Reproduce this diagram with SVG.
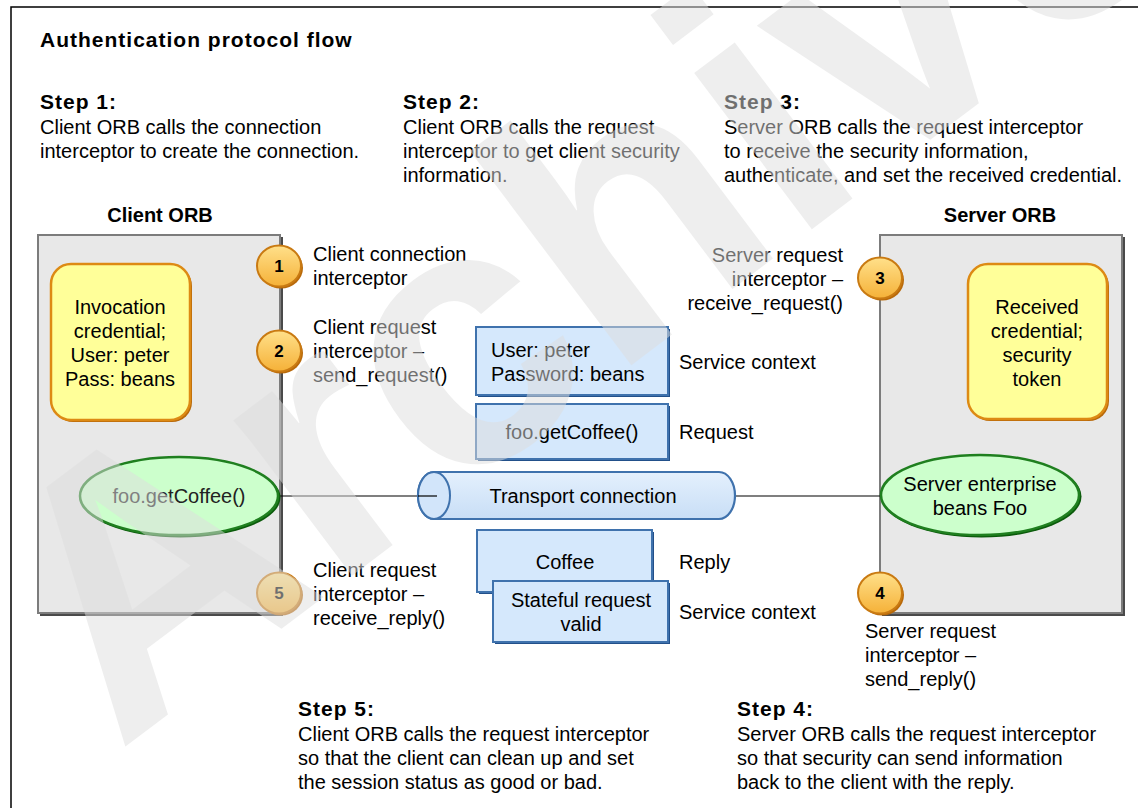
<svg xmlns="http://www.w3.org/2000/svg" width="1138" height="808" viewBox="0 0 1138 808">
<defs>
<style>
text{font-family:"Liberation Sans",Arial,sans-serif;fill:#000}
.t{font-size:20px}
.b{font-size:20px;font-weight:bold}
.h{font-size:21px;font-weight:bold;letter-spacing:1px}
.m{text-anchor:middle}
.e{text-anchor:end}
.orb{fill:#e8e8e8;stroke:#7c7c7c;stroke-width:2}
.orbs{fill:#4a4a4a}
.yel{fill:#ffff99;stroke:#dd8a14;stroke-width:2.5}
.yels{fill:#b8690a}
.grn{fill:#ccffcc;stroke:#1f7f1f;stroke-width:2.5}
.grns{fill:#0b5a0b}
.blu{fill:#d5e8fc;stroke:#3f72ad;stroke-width:2}
.blus{fill:#22508a}
.bad{fill:url(#bg);stroke:#c97a12;stroke-width:2}
.bads{fill:#b8690a}
.num{font-size:17px;font-weight:bold;text-anchor:middle}
.ln{stroke:#000;stroke-width:1.2;fill:none}
</style>
<linearGradient id="bg" x1="0" y1="0" x2="0" y2="1">
<stop offset="0" stop-color="#ffe08a"/>
<stop offset="1" stop-color="#f5b138"/>
</linearGradient>
<linearGradient id="cyl" x1="0" y1="0" x2="0" y2="1">
<stop offset="0" stop-color="#e4f0fd"/>
<stop offset="1" stop-color="#c8def6"/>
</linearGradient>
</defs>
<rect width="1138" height="808" fill="#fff"/>
<path d="M11,808 V7 H1138" fill="none" stroke="#000" stroke-width="1.5"/>

<g id="title"><text class="h" x="40" y="47">Authentication protocol flow</text></g>

<g id="step1">
<text class="h" x="40" y="109">Step 1:</text>
<text class="t" x="40" y="134">Client ORB calls the connection</text>
<text class="t" x="40" y="158">interceptor to create the connection.</text>
</g>
<g id="step2">
<text class="h" x="403" y="109">Step 2:</text>
<text class="t" x="403" y="134">Client ORB calls the request</text>
<text class="t" x="403" y="158">interceptor to get client security</text>
<text class="t" x="403" y="182">information.</text>
</g>
<g id="step3">
<text class="h" x="724" y="109">Step 3:</text>
<text class="t" x="724" y="134">Server ORB calls the request interceptor</text>
<text class="t" x="724" y="158">to receive the security information,</text>
<text class="t" x="724" y="182">authenticate, and set the received credential.</text>
</g>

<g id="client-orb">
<text class="b m" x="160" y="222">Client ORB</text>
<rect class="orbs" x="40" y="237" width="243" height="379"/>
<rect class="orb" x="38" y="235" width="242" height="378"/>
</g>
<g id="server-orb">
<text class="b m" x="1000" y="222">Server ORB</text>
<rect class="orbs" x="882" y="237" width="243" height="379"/>
<rect class="orb" x="880" y="235" width="242" height="378"/>
</g>

<g id="invocation-credential">
<rect class="yels" x="53" y="266" width="139" height="156" rx="20"/>
<rect class="yel" x="51" y="264" width="139" height="156" rx="20"/>
<text class="t m" x="120" y="314">Invocation</text>
<text class="t m" x="120" y="338">credential;</text>
<text class="t m" x="120" y="362">User: peter</text>
<text class="t m" x="120" y="386">Pass: beans</text>
</g>
<g id="received-credential">
<rect class="yels" x="970" y="266" width="139" height="155" rx="20"/>
<rect class="yel" x="968" y="264" width="139" height="155" rx="20"/>
<text class="t m" x="1037" y="314">Received</text>
<text class="t m" x="1037" y="338">credential;</text>
<text class="t m" x="1037" y="362">security</text>
<text class="t m" x="1037" y="386">token</text>
</g>

<g id="connectors">
<line class="ln" x1="278" y1="496" x2="437" y2="496"/>
<line class="ln" x1="735" y1="496" x2="881" y2="496"/>
</g>

<g id="client-foo">
<ellipse class="grns" cx="180.5" cy="497.5" rx="100" ry="40"/>
<ellipse class="grn" cx="179" cy="496" rx="99" ry="39"/>
<text class="t m" x="179" y="503" style="fill:#222">foo.getCoffee()</text>
</g>
<g id="server-bean">
<ellipse class="grns" cx="981.5" cy="496.5" rx="100" ry="41"/>
<ellipse class="grn" cx="980" cy="495" rx="99" ry="40"/>
<text class="t m" x="980" y="491">Server enterprise</text>
<text class="t m" x="980" y="515">beans Foo</text>
</g>

<g id="transport">
<path d="M434,472 H719 A16,23.5 0 0 1 719,519 H434 A16,23.5 0 0 1 434,472 Z" fill="url(#cyl)" stroke="#3f72ad" stroke-width="2.2"/>
<ellipse cx="434" cy="495.5" rx="16" ry="23.5" fill="#d2e5fa" stroke="#3f72ad" stroke-width="2"/>
<line class="ln" x1="418" y1="496" x2="437" y2="496"/>
<text class="t m" x="583" y="503">Transport connection</text>
</g>

<g id="service-context-req">
<rect class="blus" x="478" y="329" width="192" height="68"/>
<rect class="blu" x="476" y="327" width="192" height="68"/>
<text class="t" x="491" y="357">User: peter</text>
<text class="t" x="491" y="381">Password: beans</text>
<text class="t" x="679" y="369">Service context</text>
</g>
<g id="request">
<rect class="blus" x="478" y="406" width="192" height="55"/>
<rect class="blu" x="476" y="404" width="192" height="55"/>
<text class="t m" x="572" y="439">foo.getCoffee()</text>
<text class="t" x="679" y="439">Request</text>
</g>
<g id="reply">
<rect class="blus" x="479" y="532" width="175" height="62"/>
<rect class="blu" x="477" y="530" width="175" height="62"/>
<text class="t m" x="565" y="569">Coffee</text>
<text class="t" x="679" y="569">Reply</text>
</g>
<g id="service-context-rep">
<rect class="blus" x="495" y="583" width="175" height="61"/>
<rect class="blu" x="493" y="581" width="175" height="61"/>
<text class="t m" x="581" y="607">Stateful request</text>
<text class="t m" x="581" y="631">valid</text>
<text class="t" x="679" y="619">Service context</text>
</g>

<g id="badge1">
<ellipse class="bads" cx="281" cy="268" rx="22" ry="20.5"/>
<ellipse class="bad" cx="279" cy="266" rx="22" ry="20.5"/>
<text class="num" x="279" y="272">1</text>
<text class="t" x="313" y="261">Client connection</text>
<text class="t" x="313" y="285">interceptor</text>
</g>
<g id="badge2">
<ellipse class="bads" cx="281" cy="353" rx="22" ry="20.5"/>
<ellipse class="bad" cx="279" cy="351" rx="22" ry="20.5"/>
<text class="num" x="279" y="357">2</text>
<text class="t" x="313" y="334">Client request</text>
<text class="t" x="313" y="358">interceptor –</text>
<text class="t" x="313" y="382">send_request()</text>
</g>
<g id="badge3">
<ellipse class="bads" cx="882" cy="280" rx="22" ry="20.5"/>
<ellipse class="bad" cx="880" cy="278" rx="22" ry="20.5"/>
<text class="num" x="880" y="284">3</text>
<text class="t e" x="843" y="262">Server request</text>
<text class="t e" x="843" y="286">interceptor –</text>
<text class="t e" x="843" y="310">receive_request()</text>
</g>
<g id="badge4">
<ellipse class="bads" cx="882" cy="595" rx="22" ry="20.5"/>
<ellipse class="bad" cx="880" cy="593" rx="22" ry="20.5"/>
<text class="num" x="880" y="599">4</text>
<text class="t" x="865" y="638">Server request</text>
<text class="t" x="865" y="662">interceptor –</text>
<text class="t" x="865" y="686">send_reply()</text>
</g>
<g id="badge5">
<ellipse class="bads" cx="281" cy="595" rx="22" ry="20.5"/>
<ellipse class="bad" cx="279" cy="593" rx="22" ry="20.5"/>
<text class="num" x="279" y="599">5</text>
<text class="t" x="313" y="577">Client request</text>
<text class="t" x="313" y="601">interceptor –</text>
<text class="t" x="313" y="625">receive_reply()</text>
</g>

<g id="step5">
<text class="h" x="298" y="716">Step 5:</text>
<text class="t" x="298" y="741">Client ORB calls the request interceptor</text>
<text class="t" x="298" y="765">so that the client can clean up and set</text>
<text class="t" x="298" y="789">the session status as good or bad.</text>
</g>
<g id="step4">
<text class="h" x="737" y="716">Step 4:</text>
<text class="t" x="737" y="741">Server ORB calls the request interceptor</text>
<text class="t" x="737" y="765">so that security can send information</text>
<text class="t" x="737" y="789">back to the client with the reply.</text>
</g>

<g id="watermark" opacity="0.5">
<text x="118" y="752" transform="rotate(-37 118 752)" style="font-size:370px;font-weight:bold;fill:#dedede">Archived</text>
</g>
</svg>
